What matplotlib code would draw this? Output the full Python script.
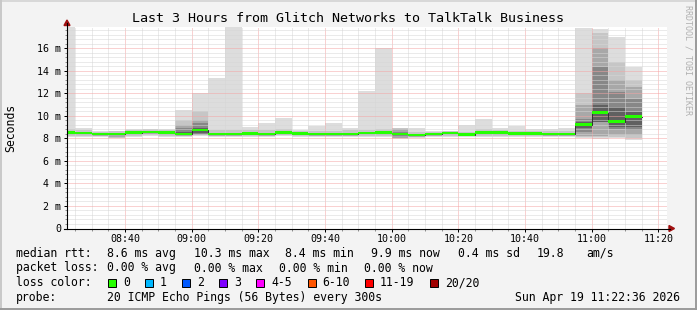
"""SmokePing style latency chart: Glitch Networks -> TalkTalk Business."""

import numpy as np
import matplotlib
matplotlib.use("Agg")
import matplotlib.pyplot as plt
from matplotlib.patches import Polygon, Rectangle
from matplotlib.lines import Line2D

W, H = 697, 310
MONO = "DejaVu Sans Mono"
plt.rcParams["font.family"] = [MONO, "DejaVu Sans"]

# ---- data (ms), one entry per 5 minute step, step end times ----
graph_start = "08:22:36"
graph_end = "11:22:36"
step_ends = ["08:25", "08:30", "08:35", "08:40", "08:45", "08:50", "08:55",
             "09:00", "09:05", "09:10", "09:15", "09:20", "09:25", "09:30",
             "09:35", "09:40", "09:45", "09:50", "09:55", "10:00", "10:05",
             "10:10", "10:15", "10:20", "10:25", "10:30", "10:35", "10:40",
             "10:45", "10:50", "10:55", "11:00", "11:05", "11:10", "11:15"]

median = [8.52, 8.46, 8.37, 8.37, 8.52, 8.60, 8.52, 8.40, 8.73, 8.37, 8.37, 8.43,
          8.40, 8.52, 8.45, 8.37, 8.40, 8.40, 8.46, 8.52, 8.40, 8.30, 8.40, 8.46,
          8.34, 8.52, 8.52, 8.43, 8.43, 8.40, 8.40, 9.23, 10.30, 9.50, 9.94]
ping_min = [8.10, 8.15, 8.10, 8.00, 8.15, 8.20, 8.15, 8.16, 8.20, 8.15, 8.15, 8.15,
            8.15, 8.20, 8.15, 8.15, 8.15, 8.15, 8.15, 8.15, 7.93, 8.00, 8.15, 8.15,
            8.10, 8.15, 8.15, 8.15, 8.15, 8.15, 8.15, 8.05, 7.98, 8.05, 7.84]
ping_max = [18.5, 8.90, 8.70, 8.70, 8.80, 8.80, 8.80, 10.50, 12.07, 13.40, 18.5, 9.00,
            9.40, 9.80, 8.76, 9.10, 9.40, 8.96, 12.25, 16.00, 8.96, 8.90, 8.70, 8.70,
            9.20, 9.70, 8.96, 9.10, 8.85, 8.80, 8.90, 17.80, 17.76, 17.00, 14.36]
# inner smoke bands, light to dark
s2_lo = [8.20, 8.25, 8.20, 8.05, 8.25, 8.30, 8.25, 8.20, 8.30, 8.25, 8.25, 8.25,
         8.25, 8.30, 8.25, 8.25, 8.25, 8.25, 8.25, 8.25, 8.00, 8.10, 8.25, 8.25,
         8.20, 8.25, 8.25, 8.25, 8.25, 8.25, 8.25, 8.15, 8.13, 8.15, 8.00]
s2_hi = [8.80, 8.75, 8.60, 8.65, 8.75, 8.80, 8.75, 9.64, 10.40, 8.75, 8.75, 8.75,
         8.75, 8.80, 8.70, 8.70, 8.70, 8.75, 8.75, 8.80, 8.90, 8.60, 8.60, 8.65,
         8.60, 8.80, 8.75, 8.70, 8.70, 8.65, 8.65, 12.07, 17.40, 14.80, 13.20]
s3_lo = [8.35, 8.30, 8.25, 8.15, 8.35, 8.40, 8.35, 8.25, 8.35, 8.25, 8.25, 8.30,
         8.25, 8.35, 8.30, 8.25, 8.25, 8.25, 8.30, 8.35, 8.05, 8.15, 8.25, 8.30,
         8.20, 8.35, 8.35, 8.30, 8.30, 8.25, 8.25, 8.20, 8.20, 8.28, 8.30]
s3_hi = [8.62, 8.56, 8.47, 8.50, 8.62, 8.70, 8.62, 9.20, 9.64, 8.47, 8.47, 8.53,
         8.50, 8.62, 8.55, 8.47, 8.50, 8.50, 8.56, 8.62, 8.85, 8.40, 8.50, 8.56,
         8.44, 8.62, 8.62, 8.53, 8.53, 8.50, 8.50, 10.95, 16.00, 13.20, 12.60]
s4_lo = [8.46, 8.40, 8.31, 8.31, 8.46, 8.54, 8.46, 8.30, 8.40, 8.31, 8.31, 8.37,
         8.34, 8.46, 8.39, 8.31, 8.34, 8.34, 8.40, 8.46, 8.20, 8.22, 8.34, 8.40,
         8.28, 8.46, 8.46, 8.37, 8.37, 8.34, 8.34, 8.60, 9.47, 8.87, 8.73]
s4_hi = [8.60, 8.54, 8.45, 8.45, 8.60, 8.68, 8.60, 8.90, 9.35, 8.45, 8.45, 8.51,
         8.48, 8.60, 8.53, 8.45, 8.48, 8.48, 8.54, 8.60, 8.60, 8.40, 8.48, 8.54,
         8.42, 8.60, 8.60, 8.51, 8.51, 8.48, 8.48, 9.76, 14.35, 12.10, 11.50]
nan = np.nan
s5_lo = [nan, nan, nan, nan, nan, nan, nan, 8.35, 8.50, nan, nan, nan,
         nan, nan, nan, nan, nan, nan, nan, nan, nan, nan, nan, nan,
         nan, nan, nan, nan, nan, nan, nan, 8.90, 9.47, 9.00, 9.00]
s5_hi = [nan, nan, nan, nan, nan, nan, nan, 8.60, 8.90, nan, nan, nan,
         nan, nan, nan, nan, nan, nan, nan, nan, nan, nan, nan, nan,
         nan, nan, nan, nan, nan, nan, nan, 9.50, 10.95, 10.80, 10.35]

x_tick_labels = ["08:40", "09:00", "09:20", "09:40", "10:00", "10:20", "10:40", "11:00", "11:20"]
y_tick_labels = ["0", "2 m", "4 m", "6 m", "8 m", "10 m", "12 m", "14 m", "16 m"]

loss_labels = ["0", "1", "2", "3", "4-5", "6-10", "11-19", "20/20"]
loss_colors = ["#26ff00", "#00b8ff", "#0059ff", "#7e00ff", "#ff00ff", "#ff5500", "#ff0000", "#a10000"]


def minutes(t):
    p = [int(v) for v in t.split(":")]
    return p[0] * 60 + p[1] + (p[2] / 60 if len(p) > 2 else 0)


def fx(x):
    return x / W


def fy(y):
    return 1 - y / H


t0, t1 = minutes(graph_start), minutes(graph_end)
ends = np.array([minutes(t) for t in step_ends])
starts = np.concatenate([[t0], ends[:-1]])
widths = ends - starts

fig = plt.figure(figsize=(W / 100, H / 100), dpi=100, facecolor="#f3f3f3")
ax = fig.add_axes([fx(67), fy(228.5), 600 / W, (228.5 - 27) / H])
ax.set_facecolor("white")
ax.set_xlim(t0, t1)
ax.set_ylim(0, 17.9)

# smoke
layers = [(ping_min, ping_max, "#dddddd"), (s2_lo, s2_hi, "#c6c6c6"),
          (s3_lo, s3_hi, "#a8a8a8"), (s4_lo, s4_hi, "#878787"),
          (s5_lo, s5_hi, "#606060")]
for lo, hi, col in layers:
    lo, hi = np.array(lo), np.array(hi)
    ok = np.isfinite(lo)
    ax.bar(starts[ok], hi[ok] - lo[ok], bottom=lo[ok], width=widths[ok], align="edge",
           color=col, linewidth=0, antialiased=False, zorder=1)

# median: dark step line plus loss coloured band
med = np.array(median)
ax.step(np.append(starts, ends[-1]), np.append(med, med[-1]), where="post",
        color="#303030", lw=0.7, zorder=2.8)
ax.bar(starts, 0.2, bottom=med - 0.1, width=widths, align="edge",
       color=loss_colors[0], linewidth=0, antialiased=False, zorder=3)

# grid and ticks
major_x = [minutes(t) for t in x_tick_labels]
ax.set_xticks(major_x)
ax.set_xticklabels(x_tick_labels)
ax.set_xticks(np.arange(minutes("08:25"), t1, 5), minor=True)
ax.set_yticks(np.arange(0, 17, 2))
ax.set_yticklabels(y_tick_labels)
ax.set_yticks(np.arange(0, 17.9, 0.4), minor=True)
ax.set_axisbelow(False)
ax.grid(which="minor", color="#d6d6d6", linestyle=(0, (1, 1)), linewidth=0.72)
ax.grid(which="major", color="#f4a4a4", linestyle=(0, (1, 1)), linewidth=0.72)
ax.tick_params(which="major", direction="out", length=2.2, width=0.72, color="#000000",
               labelsize=7.2, pad=2)
ax.tick_params(which="minor", direction="out", length=1.5, width=0.72, color="#909090")
ax.tick_params(axis="x", which="major", pad=1.5)
for s in ax.spines.values():
    s.set_visible(False)

# axis lines with arrows
fig.add_artist(Line2D([fx(67), fx(67)], [fy(228.5), fy(23)], color="black", lw=0.8))
fig.add_artist(Line2D([fx(64), fx(670)], [fy(228.5), fy(228.5)], color="black", lw=0.8))
fig.add_artist(Polygon([(fx(64), fy(25.5)), (fx(70), fy(25.5)), (fx(67), fy(20))],
                       closed=True, color="#a01010", transform=fig.transFigure))
fig.add_artist(Polygon([(fx(669), fy(225.5)), (fx(669), fy(231.5)), (fx(674.5), fy(228.5))],
                       closed=True, color="#a01010", transform=fig.transFigure))

# texts
fig.text(fx(347.5), fy(19), "Last 3 Hours from Glitch Networks to TalkTalk Business",
         ha="center", va="center", fontsize=9.6)
fig.text(fx(11), fy(127.5), "Seconds", rotation=90, ha="center", va="center", fontsize=8.3)
fig.text(fx(688), fy(60), "RRDTOOL / TOBI OETIKER", rotation=270, ha="center",
         va="center", fontsize=6, color="#b0b0b0")

row_y = [253.5, 268, 282.5, 297]
fs = 8.3
row1 = [(16, "median rtt:"), (107, "8.6 ms avg"), (193.8, "10.3 ms max"),
        (285.3, "8.4 ms min"), (371, "9.9 ms now"), (457.8, "0.4 ms sd"),
        (536.4, "19.8"), (586.7, "am/s")]
row2 = [(16, "packet loss:"), (107, "0.00 % avg"), (193.8, "0.00 % max"),
        (279, "0.00 % min"), (364.4, "0.00 % now")]
for y, row in zip(row_y[:2], [row1, row2]):
    for x, txt in row:
        fig.text(fx(x), fy(y), txt, ha="left", va="center", fontsize=fs)

fig.text(fx(16), fy(row_y[2]), "loss color:", ha="left", va="center", fontsize=fs)
box_x = [108.4, 145.3, 182.2, 219.1, 256.4, 307.6, 365.3, 430.2]
for bx, lab, col in zip(box_x, loss_labels, loss_colors):
    fig.add_artist(Rectangle((fx(bx), fy(row_y[2] + 4)), 8 / W, 8 / H, transform=fig.transFigure,
                             facecolor=col, edgecolor="black", lw=0.7))
    fig.text(fx(bx + 14.7), fy(row_y[2]), lab, ha="left", va="center", fontsize=fs)

fig.text(fx(16), fy(row_y[3]), "probe:", ha="left", va="center", fontsize=fs)
fig.text(fx(107), fy(row_y[3]), "20 ICMP Echo Pings (56 Bytes) every 300s",
         ha="left", va="center", fontsize=fs)
fig.text(fx(680), fy(row_y[3]), "Sun Apr 19 11:22:36 2026", ha="right", va="center", fontsize=fs)

# frame shading
fig.add_artist(Line2D([0, 1], [fy(0.5), fy(0.5)], color="#d8d8d8", lw=1.4))
fig.add_artist(Line2D([fx(0.5), fx(0.5)], [0, 1], color="#c8c8c8", lw=1.4))
fig.add_artist(Line2D([fx(696), fx(696)], [0, 1], color="#9a9a9a", lw=1.4))
fig.add_artist(Line2D([0, 1], [fy(309), fy(309)], color="#9a9a9a", lw=1.4))

fig.savefig("out.png", dpi=100, facecolor=fig.get_facecolor())
